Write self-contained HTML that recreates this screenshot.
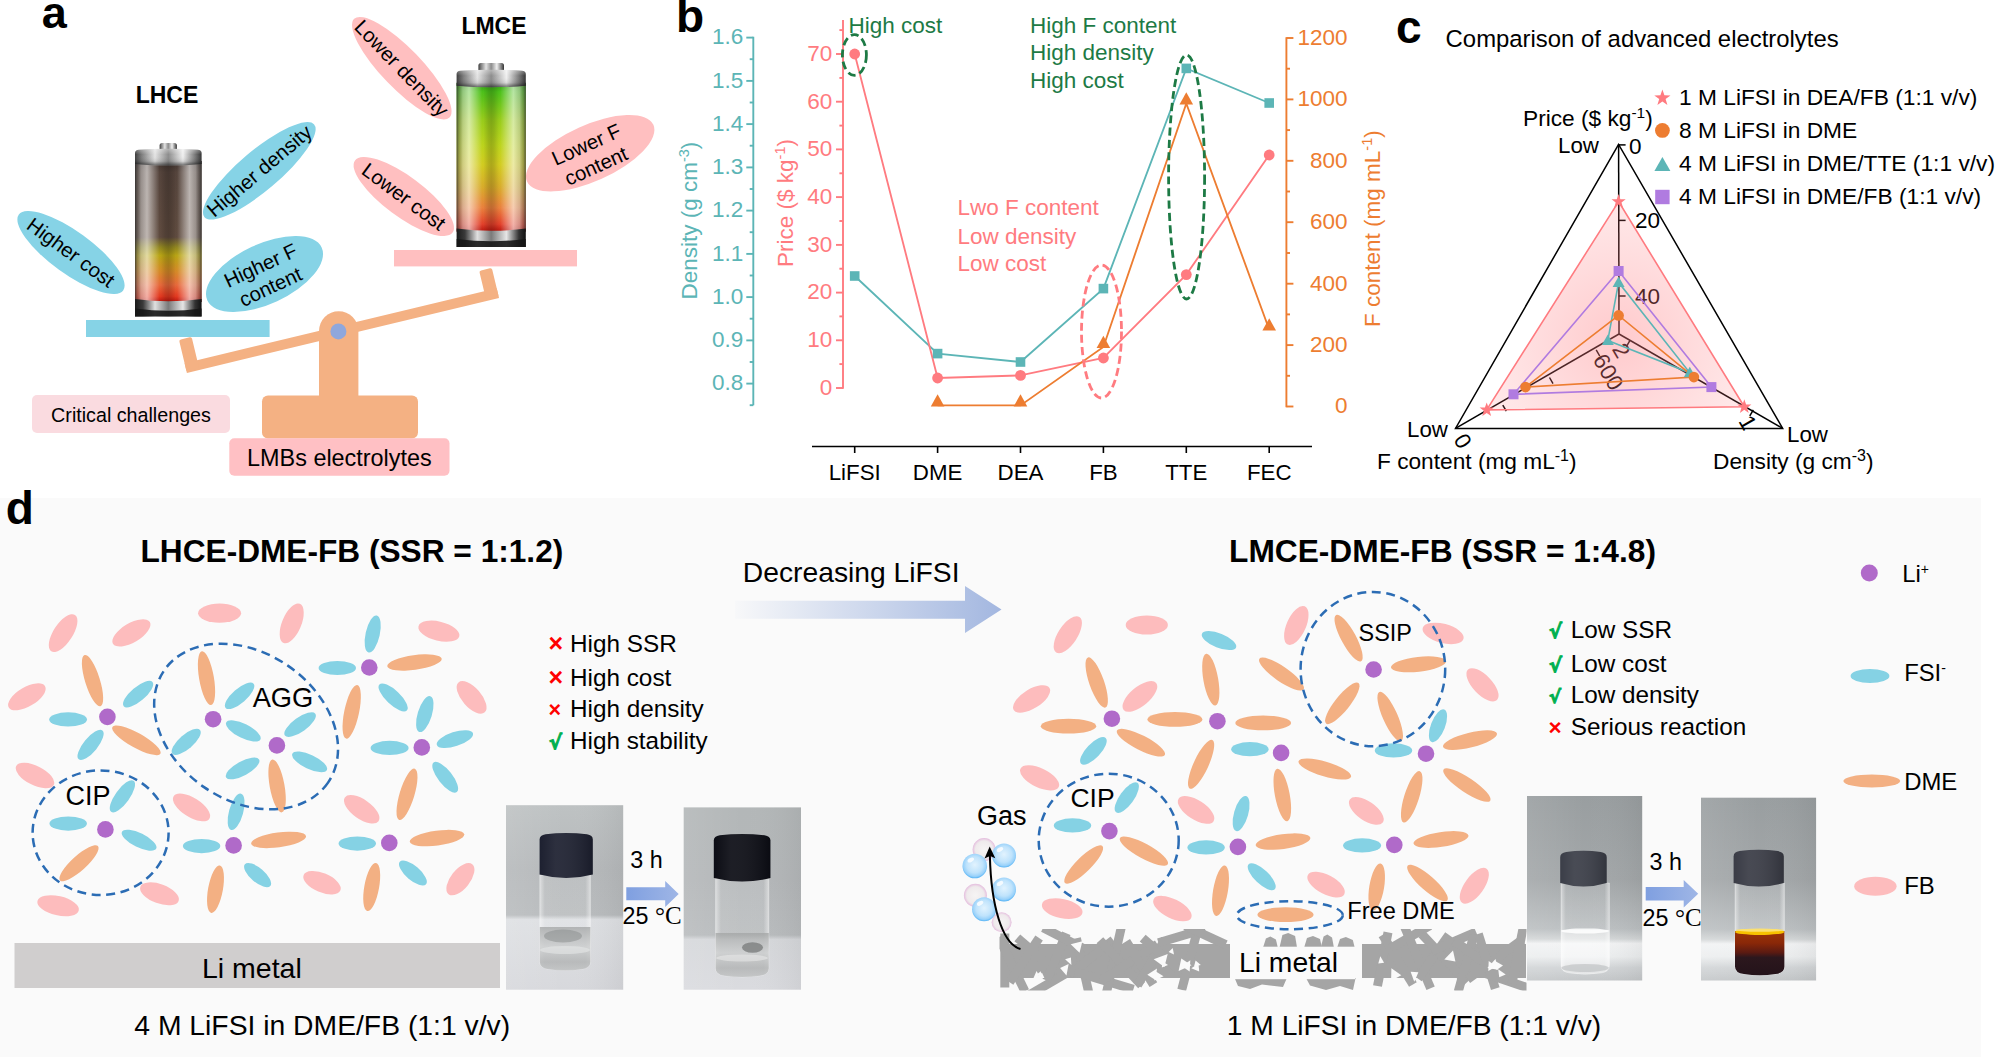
<!DOCTYPE html>
<html><head><meta charset="utf-8"><title>Figure</title>
<style>html,body{margin:0;padding:0;background:#fff}svg{display:block}text{font-family:"Liberation Sans",sans-serif}.dj{font-family:"DejaVu Sans","Liberation Sans",sans-serif}.sf{font-family:"Liberation Serif",serif}</style>
</head><body>
<svg width="2001" height="1057" viewBox="0 0 2001 1057" font-family="Liberation Sans, sans-serif">
<defs>
<linearGradient id="metalH" x1="0" x2="1" y1="0" y2="0">
 <stop offset="0" stop-color="#3c3c3c"/><stop offset="0.1" stop-color="#7d7d7d"/><stop offset="0.3" stop-color="#e4e4e4"/>
 <stop offset="0.5" stop-color="#8c8c8c"/><stop offset="0.72" stop-color="#f0f0f0"/><stop offset="0.9" stop-color="#7a7a7a"/><stop offset="1" stop-color="#333"/>
</linearGradient>
<linearGradient id="capV" x1="0" x2="0" y1="0" y2="1">
 <stop offset="0" stop-color="#fff" stop-opacity="0.35"/><stop offset="0.35" stop-color="#fff" stop-opacity="0"/><stop offset="0.75" stop-color="#000" stop-opacity="0.1"/><stop offset="1" stop-color="#000" stop-opacity="0.55"/>
</linearGradient>
<linearGradient id="baseH" x1="0" x2="1" y1="0" y2="0">
 <stop offset="0" stop-color="#1a1a1a"/><stop offset="0.12" stop-color="#3a3a3a"/><stop offset="0.3" stop-color="#e0e0e0"/>
 <stop offset="0.5" stop-color="#7a7a7a"/><stop offset="0.72" stop-color="#e6e6e6"/><stop offset="0.9" stop-color="#333"/><stop offset="1" stop-color="#111"/>
</linearGradient>
<linearGradient id="glassH" x1="0" x2="1" y1="0" y2="0">
 <stop offset="0" stop-color="#2a2a2a" stop-opacity="0.8"/><stop offset="0.035" stop-color="#666" stop-opacity="0.5"/>
 <stop offset="0.09" stop-color="#ccc" stop-opacity="0.55"/><stop offset="0.18" stop-color="#fff" stop-opacity="0.6"/><stop offset="0.27" stop-color="#fff" stop-opacity="0.32"/><stop offset="0.37" stop-color="#fff" stop-opacity="0"/>
 <stop offset="0.40" stop-color="#000" stop-opacity="0.03"/><stop offset="0.46" stop-color="#000" stop-opacity="0.14"/><stop offset="0.5" stop-color="#000" stop-opacity="0.18"/><stop offset="0.54" stop-color="#000" stop-opacity="0.14"/><stop offset="0.60" stop-color="#000" stop-opacity="0.03"/>
 <stop offset="0.63" stop-color="#fff" stop-opacity="0"/><stop offset="0.73" stop-color="#fff" stop-opacity="0.32"/><stop offset="0.82" stop-color="#fff" stop-opacity="0.6"/><stop offset="0.91" stop-color="#ccc" stop-opacity="0.55"/>
 <stop offset="0.965" stop-color="#666" stop-opacity="0.5"/><stop offset="1" stop-color="#2a2a2a" stop-opacity="0.8"/>
</linearGradient>
<linearGradient id="bat1V" x1="0" x2="0" y1="0" y2="1">
 <stop offset="0" stop-color="#3e322e"/><stop offset="0.08" stop-color="#54433b"/><stop offset="0.54" stop-color="#5e4a3e"/><stop offset="0.61" stop-color="#8f8420"/><stop offset="0.67" stop-color="#b8a414"/>
 <stop offset="0.78" stop-color="#d48a26"/><stop offset="0.88" stop-color="#e6683a"/><stop offset="0.96" stop-color="#e2381f"/><stop offset="1" stop-color="#b8160e"/>
</linearGradient>
<linearGradient id="bat2V" x1="0" x2="0" y1="0" y2="1">
 <stop offset="0" stop-color="#2f9a12"/><stop offset="0.06" stop-color="#4cc01a"/><stop offset="0.25" stop-color="#98cc1a"/><stop offset="0.42" stop-color="#bcd41c"/><stop offset="0.55" stop-color="#d2cc20"/>
 <stop offset="0.7" stop-color="#d8ac2a"/><stop offset="0.84" stop-color="#ea803c"/><stop offset="0.95" stop-color="#e2402a"/><stop offset="1" stop-color="#b8160e"/>
</linearGradient>
<radialGradient id="pinkR" cx="1619" cy="340" r="150" gradientUnits="userSpaceOnUse">
<stop offset="0" stop-color="#ff7b80" stop-opacity="0.40"/><stop offset="0.5" stop-color="#ff7b80" stop-opacity="0.27"/><stop offset="1" stop-color="#ff7b80" stop-opacity="0.15"/></radialGradient><linearGradient id="arrG" x1="0" x2="1"><stop offset="0" stop-color="#a3b7e0" stop-opacity="0.03"/><stop offset="1" stop-color="#a3b7e0"/></linearGradient>
<linearGradient id="arrS" x1="0" x2="1"><stop offset="0" stop-color="#7f9fe0"/><stop offset="1" stop-color="#9fb6e6"/></linearGradient><clipPath id="liclip"><rect x="999.5" y="929" width="527" height="61.5"/></clipPath><radialGradient id="bubB" cx="0.5" cy="0.45" r="0.55"><stop offset="0" stop-color="#e2f3fe"/><stop offset="0.6" stop-color="#bfe3fc"/><stop offset="0.86" stop-color="#98d1fa"/><stop offset="1" stop-color="#52b2f5"/></radialGradient>
<radialGradient id="bubP" cx="0.5" cy="0.5" r="0.5"><stop offset="0" stop-color="#f4f1f1" stop-opacity="0.7"/><stop offset="0.75" stop-color="#ece6e8" stop-opacity="0.8"/><stop offset="1" stop-color="#e3b9dc" stop-opacity="0.95"/></radialGradient>
<linearGradient id="ph1" x1="0" x2="0" y1="0" y2="1"><stop offset="0" stop-color="#bec2c3"/><stop offset="0.35" stop-color="#b6b9bb"/><stop offset="0.595" stop-color="#b9bcbe"/><stop offset="0.62" stop-color="#dee0e3"/><stop offset="1" stop-color="#d7d8dc"/></linearGradient>
<linearGradient id="ph2" x1="0" x2="0" y1="0" y2="1"><stop offset="0" stop-color="#b3b7b8"/><stop offset="0.4" stop-color="#b4b7b9"/><stop offset="0.7" stop-color="#b9bcbe"/><stop offset="0.725" stop-color="#d6d8db"/><stop offset="1" stop-color="#dadbdf"/></linearGradient>
<linearGradient id="ph3" x1="0" x2="0" y1="0" y2="1"><stop offset="0" stop-color="#999ea0"/><stop offset="0.45" stop-color="#a3a7a9"/><stop offset="0.72" stop-color="#bcc0c2"/><stop offset="0.775" stop-color="#d4d7d8"/><stop offset="0.8" stop-color="#f2f3f4"/><stop offset="0.87" stop-color="#eceeef"/><stop offset="0.93" stop-color="#d2d5d7"/><stop offset="1" stop-color="#c4c7c9"/></linearGradient>
<linearGradient id="phside" x1="0" x2="1"><stop offset="0" stop-color="#fff" stop-opacity="0.1"/><stop offset="0.5" stop-color="#fff" stop-opacity="0"/><stop offset="1" stop-color="#000" stop-opacity="0.05"/></linearGradient>
<linearGradient id="glassV" x1="0" x2="1"><stop offset="0" stop-color="#fff" stop-opacity="0.5"/><stop offset="0.1" stop-color="#fff" stop-opacity="0.1"/><stop offset="0.9" stop-color="#fff" stop-opacity="0.1"/><stop offset="1" stop-color="#fff" stop-opacity="0.5"/></linearGradient>
<linearGradient id="liq4" x1="0" x2="0" y1="0" y2="1"><stop offset="0" stop-color="#9a3408"/><stop offset="0.25" stop-color="#8a2808"/><stop offset="0.45" stop-color="#5a1a12"/><stop offset="0.55" stop-color="#2c171d"/><stop offset="1" stop-color="#221219"/></linearGradient>
<linearGradient id="liqg" x1="0" x2="0" y1="0" y2="1"><stop offset="0" stop-color="#a2a4a4" stop-opacity="0.75"/><stop offset="0.4" stop-color="#c8caca" stop-opacity="0.7"/><stop offset="0.7" stop-color="#a9abab" stop-opacity="0.7"/><stop offset="1" stop-color="#c4c6c6" stop-opacity="0.7"/></linearGradient>
<linearGradient id="capH" x1="0" x2="1"><stop offset="0" stop-color="#fff" stop-opacity="0.0"/><stop offset="0.3" stop-color="#fff" stop-opacity="0.07"/><stop offset="1" stop-color="#000" stop-opacity="0.15"/></linearGradient>
<clipPath id="vc1"><path d="M539.8,875.0 V961.7 Q539.8,968.2 548.8,969.2 Q565.1,971.7 581.4,969.2 Q590.4,968.2 590.4,961.7 V875.0 Z"/></clipPath><clipPath id="vc2"><path d="M715.6,878.0 V968.2 Q715.6,974.7 724.6,975.7 Q742.2,978.2 759.8,975.7 Q768.8,974.7 768.8,968.2 V878.0 Z"/></clipPath><clipPath id="vc3"><path d="M1561.0,883.0 V965.5 Q1561.0,972.0 1570.0,973.0 Q1585.2,975.5 1600.4,973.0 Q1609.4,972.0 1609.4,965.5 V883.0 Z"/></clipPath><clipPath id="vc4"><path d="M1735.0,883.0 V966.5 Q1735.0,973.0 1744.0,974.0 Q1759.7,976.5 1775.4,974.0 Q1784.4,973.0 1784.4,966.5 V883.0 Z"/></clipPath></defs>
<rect x="0" y="498" width="1981" height="559" fill="#fafafa"/>
<text x="41.8" y="28.4" font-size="45" text-anchor="start" font-weight="bold" fill="#000" >a</text>
<text x="167.0" y="102.8" font-size="23" text-anchor="middle" font-weight="bold" fill="#000" >LHCE</text>
<text x="494.0" y="34.0" font-size="23" text-anchor="middle" font-weight="bold" fill="#000" >LMCE</text>
<ellipse cx="71.0" cy="252.5" rx="64.5" ry="21.0" transform="rotate(36.0 71.0 252.5)" fill="#86d3e6" />
<g transform="rotate(36.0 71.0 252.5)">
<text x="71.0" y="259.6" font-size="20.3" text-anchor="middle" fill="#000" >Higher cost</text>
</g>
<ellipse cx="259.3" cy="170.8" rx="71.8" ry="20.0" transform="rotate(-40.2 259.3 170.8)" fill="#86d3e6" />
<g transform="rotate(-40.2 259.3 170.8)">
<text x="259.3" y="177.9" font-size="20.3" text-anchor="middle" fill="#000" >Higher density</text>
</g>
<ellipse cx="264.5" cy="274.0" rx="63.0" ry="30.0" transform="rotate(-24.9 264.5 274.0)" fill="#86d3e6" />
<g transform="rotate(-24.9 264.5 274.0)">
<text x="264.5" y="271.6" font-size="20.3" text-anchor="middle" fill="#000" >Higher F</text>
<text x="264.5" y="295.1" font-size="20.3" text-anchor="middle" fill="#000" >content</text>
</g>
<ellipse cx="401.8" cy="68.2" rx="68.6" ry="20.0" transform="rotate(46.0 401.8 68.2)" fill="#ffbfc0" />
<g transform="rotate(46.0 401.8 68.2)">
<text x="401.8" y="75.3" font-size="20.3" text-anchor="middle" fill="#000" >Lower density</text>
</g>
<ellipse cx="403.8" cy="196.5" rx="60.7" ry="20.0" transform="rotate(36.5 403.8 196.5)" fill="#ffbfc0" />
<g transform="rotate(36.5 403.8 196.5)">
<text x="403.8" y="203.6" font-size="20.3" text-anchor="middle" fill="#000" >Lower cost</text>
</g>
<ellipse cx="590.2" cy="153.2" rx="69.3" ry="28.0" transform="rotate(-24.2 590.2 153.2)" fill="#ffbfc0" />
<g transform="rotate(-24.2 590.2 153.2)">
<text x="590.2" y="150.8" font-size="20.3" text-anchor="middle" fill="#000" >Lower F</text>
<text x="590.2" y="174.3" font-size="20.3" text-anchor="middle" fill="#000" >content</text>
</g>
<rect x="159.6" y="143.0" width="17.3" height="9.0" rx="2.5" fill="url(#metalH)"/>
<rect x="135.0" y="161.0" width="66.6" height="141.0" fill="url(#bat1V)"/>
<rect x="135.0" y="161.0" width="66.6" height="141.0" fill="url(#glassH)"/>
<path d="M135.0,164.0 V153.0 Q135.0,150.0 139.0,149.8 Q168.3,147.5 197.6,149.8 Q201.6,150.0 201.6,153.0 V164.0 Q168.3,167.0 135.0,164.0 Z" fill="url(#metalH)"/>
<path d="M135.0,164.0 V153.0 Q135.0,150.0 139.0,149.8 Q168.3,147.5 197.6,149.8 Q201.6,150.0 201.6,153.0 V164.0 Q168.3,167.0 135.0,164.0 Z" fill="url(#capV)"/>
<path d="M135.0,299.0 Q168.3,303.5 201.6,299.0 V316.6 H135.0 Z" fill="url(#baseH)"/>
<path d="M135.0,308.6 Q168.3,313.1 201.6,308.6 V316.6 H135.0 Z" fill="#161616" opacity="0.9"/>
<rect x="478.4" y="63.0" width="25.6" height="10.0" rx="2.5" fill="url(#metalH)"/>
<rect x="456.6" y="82.8" width="69.2" height="148.8" fill="url(#bat2V)"/>
<rect x="456.6" y="82.8" width="69.2" height="148.8" fill="url(#glassH)"/>
<path d="M456.6,85.8 V74.0 Q456.6,71.0 460.6,70.8 Q491.2,68.5 521.8,70.8 Q525.8,71.0 525.8,74.0 V85.8 Q491.2,88.8 456.6,85.8 Z" fill="url(#metalH)"/>
<path d="M456.6,85.8 V74.0 Q456.6,71.0 460.6,70.8 Q491.2,68.5 521.8,70.8 Q525.8,71.0 525.8,74.0 V85.8 Q491.2,88.8 456.6,85.8 Z" fill="url(#capV)"/>
<path d="M456.6,228.6 Q491.2,233.1 525.8,228.6 V247.0 H456.6 Z" fill="url(#baseH)"/>
<path d="M456.6,239.0 Q491.2,243.5 525.8,239.0 V247.0 H456.6 Z" fill="#161616" opacity="0.9"/>
<rect x="86" y="320" width="183.6" height="17" fill="#86d3e6"/>
<rect x="394" y="250" width="183" height="16.4" fill="#ffbfc0"/>
<g transform="rotate(-13.5 338.4 331.4)" fill="#f4b183">
<rect x="181.4" y="326.4" width="321.0" height="10" />
<rect x="181.4" y="302.4" width="13" height="33" rx="2"/>
<rect x="489.4" y="305.4" width="13" height="30" rx="2"/>
</g>
<path d="M319,396 V331 a19.7,19.7 0 0 1 39.4,0 V396 Z" fill="#f4b183"/>
<rect x="262" y="395.5" width="156" height="43" rx="6" fill="#f4b183"/>
<circle cx="338.4" cy="331.4" r="8" fill="#8fa7dc"/>
<rect x="32" y="395" width="198" height="38" rx="5" fill="#fadbe0"/>
<text x="131.0" y="422.0" font-size="19.7" text-anchor="middle" fill="#000" >Critical challenges</text>
<rect x="229.3" y="438.3" width="220.2" height="37.5" rx="5" fill="#ffc0c4"/>
<text x="339.4" y="466.3" font-size="23.4" text-anchor="middle" fill="#000" >LMBs electrolytes</text>
<text x="676.0" y="32.0" font-size="46" text-anchor="start" font-weight="bold" fill="#000" >b</text>
<g stroke="#5cb5b6" stroke-width="1.9" fill="none">
<path d="M753.3,36.8 V405.2"/>
<path d="M749.6999999999999,405.2 H753.3"/>
<path d="M746.3,383.6 H753.3"/>
<path d="M749.6999999999999,362.0 H753.3"/>
<path d="M746.3,340.4 H753.3"/>
<path d="M749.6999999999999,318.7 H753.3"/>
<path d="M746.3,297.1 H753.3"/>
<path d="M749.6999999999999,275.5 H753.3"/>
<path d="M746.3,253.9 H753.3"/>
<path d="M749.6999999999999,232.2 H753.3"/>
<path d="M746.3,210.6 H753.3"/>
<path d="M749.6999999999999,189.0 H753.3"/>
<path d="M746.3,167.4 H753.3"/>
<path d="M749.6999999999999,145.7 H753.3"/>
<path d="M746.3,124.1 H753.3"/>
<path d="M749.6999999999999,102.5 H753.3"/>
<path d="M746.3,80.9 H753.3"/>
<path d="M749.6999999999999,59.2 H753.3"/>
<path d="M746.3,37.6 H753.3"/>
</g>
<text x="743.2" y="390.4" font-size="22.5" text-anchor="end" fill="#5cb5b6" >0.8</text>
<text x="743.2" y="347.2" font-size="22.5" text-anchor="end" fill="#5cb5b6" >0.9</text>
<text x="743.2" y="303.9" font-size="22.5" text-anchor="end" fill="#5cb5b6" >1.0</text>
<text x="743.2" y="260.7" font-size="22.5" text-anchor="end" fill="#5cb5b6" >1.1</text>
<text x="743.2" y="217.4" font-size="22.5" text-anchor="end" fill="#5cb5b6" >1.2</text>
<text x="743.2" y="174.2" font-size="22.5" text-anchor="end" fill="#5cb5b6" >1.3</text>
<text x="743.2" y="130.9" font-size="22.5" text-anchor="end" fill="#5cb5b6" >1.4</text>
<text x="743.2" y="87.7" font-size="22.5" text-anchor="end" fill="#5cb5b6" >1.5</text>
<text x="743.2" y="44.4" font-size="22.5" text-anchor="end" fill="#5cb5b6" >1.6</text>
<text x="697" y="220.6" font-size="22.5" text-anchor="middle" fill="#5cb5b6" transform="rotate(-90 697 220.6)">Density (g cm<tspan font-size="14.5" dy="-8">-3</tspan><tspan dy="8">)</tspan></text>
<g stroke="#ff7b80" stroke-width="1.9" fill="none">
<path d="M843,20 V388.8"/>
<path d="M836,388.0 H843"/>
<path d="M839.4,364.1 H843"/>
<path d="M836,340.3 H843"/>
<path d="M839.4,316.4 H843"/>
<path d="M836,292.6 H843"/>
<path d="M839.4,268.7 H843"/>
<path d="M836,244.9 H843"/>
<path d="M839.4,221.0 H843"/>
<path d="M836,197.1 H843"/>
<path d="M839.4,173.3 H843"/>
<path d="M836,149.4 H843"/>
<path d="M839.4,125.6 H843"/>
<path d="M836,101.7 H843"/>
<path d="M839.4,77.9 H843"/>
<path d="M836,54.0 H843"/>
<path d="M839.4,30.1 H843"/>
</g>
<text x="832.2" y="394.8" font-size="22.5" text-anchor="end" fill="#ff7b80" >0</text>
<text x="832.2" y="347.1" font-size="22.5" text-anchor="end" fill="#ff7b80" >10</text>
<text x="832.2" y="299.4" font-size="22.5" text-anchor="end" fill="#ff7b80" >20</text>
<text x="832.2" y="251.7" font-size="22.5" text-anchor="end" fill="#ff7b80" >30</text>
<text x="832.2" y="203.9" font-size="22.5" text-anchor="end" fill="#ff7b80" >40</text>
<text x="832.2" y="156.2" font-size="22.5" text-anchor="end" fill="#ff7b80" >50</text>
<text x="832.2" y="108.5" font-size="22.5" text-anchor="end" fill="#ff7b80" >60</text>
<text x="832.2" y="60.8" font-size="22.5" text-anchor="end" fill="#ff7b80" >70</text>
<text x="792.5" y="203" font-size="22.5" text-anchor="middle" fill="#ff7b80" transform="rotate(-90 792.5 203)">Price ($ kg<tspan font-size="14.5" dy="-8">-1</tspan><tspan dy="8">)</tspan></text>
<g stroke="#ed7d31" stroke-width="1.9" fill="none">
<path d="M1286.4,37.2 V407.3"/>
<path d="M1286.4,406.5 H1293.4"/>
<path d="M1286.4,375.8 H1290.0"/>
<path d="M1286.4,345.1 H1293.4"/>
<path d="M1286.4,314.4 H1290.0"/>
<path d="M1286.4,283.7 H1293.4"/>
<path d="M1286.4,253.0 H1290.0"/>
<path d="M1286.4,222.2 H1293.4"/>
<path d="M1286.4,191.5 H1290.0"/>
<path d="M1286.4,160.8 H1293.4"/>
<path d="M1286.4,130.1 H1290.0"/>
<path d="M1286.4,99.4 H1293.4"/>
<path d="M1286.4,68.7 H1290.0"/>
<path d="M1286.4,38.0 H1293.4"/>
</g>
<text x="1347.5" y="413.3" font-size="22.5" text-anchor="end" fill="#ed7d31" >0</text>
<text x="1347.5" y="351.9" font-size="22.5" text-anchor="end" fill="#ed7d31" >200</text>
<text x="1347.5" y="290.5" font-size="22.5" text-anchor="end" fill="#ed7d31" >400</text>
<text x="1347.5" y="229.1" font-size="22.5" text-anchor="end" fill="#ed7d31" >600</text>
<text x="1347.5" y="167.6" font-size="22.5" text-anchor="end" fill="#ed7d31" >800</text>
<text x="1347.5" y="106.2" font-size="22.5" text-anchor="end" fill="#ed7d31" >1000</text>
<text x="1347.5" y="44.8" font-size="22.5" text-anchor="end" fill="#ed7d31" >1200</text>
<text x="1380" y="228.6" font-size="22.5" text-anchor="middle" fill="#ed7d31" transform="rotate(-90 1380 228.6)">F content (mg mL<tspan font-size="14.5" dy="-8">-1</tspan><tspan dy="8">)</tspan></text>
<g stroke="#000" stroke-width="1.6" fill="none">
<path d="M812,446.5 H1312"/>
<path d="M854.7,446.5 v6.5"/>
<path d="M937.6,446.5 v6.5"/>
<path d="M1020.5,446.5 v6.5"/>
<path d="M1103.4,446.5 v6.5"/>
<path d="M1186.3,446.5 v6.5"/>
<path d="M1269.2,446.5 v6.5"/>
</g>
<text x="854.7" y="479.6" font-size="22.3" text-anchor="middle" fill="#000" >LiFSI</text>
<text x="937.6" y="479.6" font-size="22.3" text-anchor="middle" fill="#000" >DME</text>
<text x="1020.5" y="479.6" font-size="22.3" text-anchor="middle" fill="#000" >DEA</text>
<text x="1103.4" y="479.6" font-size="22.3" text-anchor="middle" fill="#000" >FB</text>
<text x="1186.3" y="479.6" font-size="22.3" text-anchor="middle" fill="#000" >TTE</text>
<text x="1269.2" y="479.6" font-size="22.3" text-anchor="middle" fill="#000" >FEC</text>
<polyline points="854.7,276.0 937.6,353.6 1020.5,362.0 1103.4,288.6 1186.3,68.4 1269.2,103.0" fill="none" stroke="#5cb5b6" stroke-width="1.85"/>
<polyline points="854.7,54.0 937.6,378.0 1020.5,375.4 1103.4,358.0 1186.3,274.6 1269.2,155.0" fill="none" stroke="#ff7b80" stroke-width="1.85"/>
<polyline points="937.6,405.4 1020.5,405.4 1103.4,347.0 1186.3,103.5 1269.2,329.5" fill="none" stroke="#ed7d31" stroke-width="1.85"/>
<rect x="849.9" y="271.2" width="9.6" height="9.6" fill="#5cb5b6"/>
<rect x="932.8" y="348.8" width="9.6" height="9.6" fill="#5cb5b6"/>
<rect x="1015.7" y="357.2" width="9.6" height="9.6" fill="#5cb5b6"/>
<rect x="1098.6" y="283.8" width="9.6" height="9.6" fill="#5cb5b6"/>
<rect x="1181.5" y="63.6" width="9.6" height="9.6" fill="#5cb5b6"/>
<rect x="1264.4" y="98.2" width="9.6" height="9.6" fill="#5cb5b6"/>
<circle cx="854.7" cy="54.0" r="5.4" fill="#ff7b80"/>
<circle cx="937.6" cy="378.0" r="5.4" fill="#ff7b80"/>
<circle cx="1020.5" cy="375.4" r="5.4" fill="#ff7b80"/>
<circle cx="1103.4" cy="358.0" r="5.4" fill="#ff7b80"/>
<circle cx="1186.3" cy="274.6" r="5.4" fill="#ff7b80"/>
<circle cx="1269.2" cy="155.0" r="5.4" fill="#ff7b80"/>
<path d="M930.8,406.4 L944.4,406.4 L937.6,394.2 Z" fill="#ed7d31"/>
<path d="M1013.7,406.4 L1027.3,406.4 L1020.5,394.2 Z" fill="#ed7d31"/>
<path d="M1096.6,348.0 L1110.2,348.0 L1103.4,335.8 Z" fill="#ed7d31"/>
<path d="M1179.5,104.5 L1193.1,104.5 L1186.3,92.3 Z" fill="#ed7d31"/>
<path d="M1262.4,330.5 L1276.0,330.5 L1269.2,318.3 Z" fill="#ed7d31"/>
<ellipse cx="854.4" cy="55" rx="12" ry="20.3" fill="none" stroke="#1d7a45" stroke-width="2.8" stroke-dasharray="8 4.2"/>
<ellipse cx="1186.6" cy="177" rx="18" ry="122" fill="none" stroke="#1d7a45" stroke-width="2.8" stroke-dasharray="8 4.2"/>
<ellipse cx="1101.5" cy="331.5" rx="20" ry="66.5" fill="none" stroke="#ff7b80" stroke-width="2.8" stroke-dasharray="8 4.2"/>
<text x="848.4" y="33.0" font-size="22.5" text-anchor="start" fill="#1d7a45" >High cost</text>
<text x="1030.0" y="33.0" font-size="22.5" text-anchor="start" fill="#1d7a45" >High F content</text>
<text x="1030.0" y="60.4" font-size="22.5" text-anchor="start" fill="#1d7a45" >High density</text>
<text x="1030.0" y="88.0" font-size="22.5" text-anchor="start" fill="#1d7a45" >High cost</text>
<text x="957.4" y="215.0" font-size="22.5" text-anchor="start" fill="#ff7b80" >Lwo F content</text>
<text x="957.4" y="243.6" font-size="22.5" text-anchor="start" fill="#ff7b80" >Low density</text>
<text x="957.4" y="271.0" font-size="22.5" text-anchor="start" fill="#ff7b80" >Low cost</text>
<text x="1396.0" y="42.6" font-size="46" text-anchor="start" font-weight="bold" fill="#000" >c</text>
<text x="1445.6" y="47.0" font-size="23.9" text-anchor="start" fill="#000" >Comparison of advanced electrolytes</text>
<g stroke="#000" stroke-width="1.5" fill="none">
<path d="M1618.6,144.4 L1455.5,428.4 L1782.7,428.4 Z"/>
<path d="M1619,334 L1618.6,144.4"/>
<path d="M1619,334 L1455.5,428.4"/>
<path d="M1619,334 L1782.7,428.4"/>
<path d="M1618.6,144.9 h7"/>
<path d="M1618.6,220.4 h7"/>
<path d="M1618.6,296 h7"/>
<path d="M1502.8,405.1 l3.5,6.1"/>
<path d="M1549.5,377.5 l3.5,6.1"/>
<path d="M1596.2,349.9 l3.5,6.1"/>
<path d="M1749.8,415.9 l3.5,-6.1"/>
<path d="M1630,340.3 l-3.5,6.1"/>
</g>
<text x="1635.0" y="227.6" font-size="22.5" text-anchor="start" fill="#000" >20</text>
<text x="1635.0" y="303.6" font-size="22.5" text-anchor="start" fill="#000" >40</text>
<text x="1592.2" y="359.6" font-size="22.5" text-anchor="start" fill="#000" transform="rotate(60 1592.2 359.6)" >600</text>
<text x="1611.5" y="349.0" font-size="22.5" text-anchor="start" fill="#000" transform="rotate(60 1611.5 349.0)" >2</text>
<polygon points="1618.6,201.6 1486.7,409.9 1744.3,406.8" fill="url(#pinkR)" stroke="#ff7b80" stroke-width="1.6"/>
<polygon points="1618.6,271.0 1513.5,394.3 1711.4,387.1" fill="none" stroke="#b07be0" stroke-width="1.6"/>
<polygon points="1618.6,282.4 1607.8,340.4 1689.8,372.8" fill="none" stroke="#5cb5b6" stroke-width="1.6"/>
<polygon points="1618.6,315.4 1525.5,387.1 1693.9,377.1" fill="none" stroke="#ed7d31" stroke-width="1.6"/>
<path d="M1612.6,286.9 h12 l-6,-10.5 Z" fill="#5cb5b6"/>
<path d="M1601.8,344.9 h12 l-6,-10.5 Z" fill="#5cb5b6"/>
<path d="M1683.8,377.3 h12 l-6,-10.5 Z" fill="#5cb5b6"/>
<rect x="1613.6" y="266.0" width="10" height="10" fill="#b07be0"/>
<rect x="1508.5" y="389.3" width="10" height="10" fill="#b07be0"/>
<rect x="1706.4" y="382.1" width="10" height="10" fill="#b07be0"/>
<circle cx="1618.6" cy="315.4" r="5.3" fill="#ed7d31"/>
<circle cx="1525.5" cy="387.1" r="5.3" fill="#ed7d31"/>
<circle cx="1693.9" cy="377.1" r="5.3" fill="#ed7d31"/>
<polygon points="1618.6,194.1 1620.4,199.2 1625.7,199.3 1621.5,202.5 1623.0,207.7 1618.6,204.6 1614.2,207.7 1615.7,202.5 1611.5,199.3 1616.8,199.2" fill="#ff7b80"/>
<polygon points="1486.7,402.4 1488.5,407.5 1493.8,407.6 1489.6,410.8 1491.1,416.0 1486.7,412.9 1482.3,416.0 1483.8,410.8 1479.6,407.6 1484.9,407.5" fill="#ff7b80"/>
<polygon points="1744.3,399.3 1746.1,404.4 1751.4,404.5 1747.2,407.7 1748.7,412.9 1744.3,409.8 1739.9,412.9 1741.4,407.7 1737.2,404.5 1742.5,404.4" fill="#ff7b80"/>
<text x="1523" y="125.6" font-size="22.7">Price ($ kg<tspan font-size="15.5" dy="-8">-1</tspan><tspan dy="8">)</tspan></text>
<text x="1558.0" y="153.0" font-size="22.3" text-anchor="start" fill="#000" >Low</text>
<text x="1629.0" y="154.4" font-size="22.5" text-anchor="start" fill="#000" >0</text>
<text x="1407.0" y="437.0" font-size="22.3" text-anchor="start" fill="#000" >Low</text>
<text x="1787.0" y="442.3" font-size="22.3" text-anchor="start" fill="#000" >Low</text>
<text x="1377" y="468.7" font-size="22.7">F content (mg mL<tspan font-size="16" dy="-8">-1</tspan><tspan dy="8">)</tspan></text>
<text x="1713" y="468.7" font-size="22.7">Density (g cm<tspan font-size="16" dy="-8">-3</tspan><tspan dy="8">)</tspan></text>
<text x="1453.0" y="439.6" font-size="22.5" text-anchor="start" fill="#000" transform="rotate(60 1453.0 439.6)" >0</text>
<text x="1738.0" y="421.0" font-size="22.5" text-anchor="start" fill="#000" transform="rotate(60 1738.0 421.0)" >1</text>
<polygon points="1662.4,89.5 1664.4,95.2 1670.5,95.4 1665.6,99.1 1667.4,104.9 1662.4,101.4 1657.4,104.9 1659.2,99.1 1654.3,95.4 1660.4,95.2" fill="#ff7b80"/>
<circle cx="1662.4" cy="130.4" r="7.4" fill="#ed7d31"/>
<path d="M1654.4,171 h16 l-8,-14 Z" fill="#5cb5b6"/>
<rect x="1655.2" y="189.8" width="14.4" height="14.4" fill="#b07be0"/>
<text x="1679.0" y="104.6" font-size="22.75" text-anchor="start" fill="#000" >1 M LiFSI in DEA/FB (1:1 v/v)</text>
<text x="1679.0" y="137.6" font-size="22.75" text-anchor="start" fill="#000" >8 M LiFSI in DME</text>
<text x="1679.0" y="171.0" font-size="22.75" text-anchor="start" fill="#000" >4 M LiFSI in DME/TTE (1:1 v/v)</text>
<text x="1679.0" y="204.0" font-size="22.75" text-anchor="start" fill="#000" >4 M LiFSI in DME/FB (1:1 v/v)</text>
<text x="5.8" y="523.8" font-size="46" text-anchor="start" font-weight="bold" fill="#000" >d</text>
<text x="351.9" y="562.2" font-size="31.65" text-anchor="middle" font-weight="bold" fill="#000" >LHCE-DME-FB (SSR = 1:1.2)</text>
<text x="1442.5" y="562.2" font-size="31.7" text-anchor="middle" font-weight="bold" fill="#000" >LMCE-DME-FB (SSR = 1:4.8)</text>
<text x="851.2" y="581.7" font-size="28.25" text-anchor="middle" fill="#000" >Decreasing LiFSI</text>
<path d="M735,600.7 H965 V586 L1001.5,609.6 L965,633 V618.7 H735 Z" fill="url(#arrG)"/>
<ellipse cx="63.1" cy="633.1" rx="21.7" ry="9.6" transform="rotate(-56.8 63.1 633.1)" fill="#fdbcbd" />
<ellipse cx="131.4" cy="632.9" rx="21.4" ry="9.6" transform="rotate(-30.4 131.4 632.9)" fill="#fdbcbd" />
<ellipse cx="219.6" cy="613.2" rx="21.5" ry="9.6" transform="rotate(0.0 219.6 613.2)" fill="#fdbcbd" />
<ellipse cx="291.7" cy="623.4" rx="21.2" ry="9.6" transform="rotate(-67.5 291.7 623.4)" fill="#fdbcbd" />
<ellipse cx="438.9" cy="631.2" rx="21.0" ry="9.6" transform="rotate(13.8 438.9 631.2)" fill="#fdbcbd" />
<ellipse cx="26.9" cy="696.8" rx="21.0" ry="9.6" transform="rotate(-30.4 26.9 696.8)" fill="#fdbcbd" />
<ellipse cx="471.6" cy="697.4" rx="19.9" ry="9.6" transform="rotate(48.8 471.6 697.4)" fill="#fdbcbd" />
<ellipse cx="35.0" cy="775.5" rx="21.0" ry="9.6" transform="rotate(26.6 35.0 775.5)" fill="#fdbcbd" />
<ellipse cx="191.5" cy="807.4" rx="21.1" ry="9.6" transform="rotate(32.2 191.5 807.4)" fill="#fdbcbd" />
<ellipse cx="361.7" cy="809.3" rx="20.6" ry="9.6" transform="rotate(35.1 361.7 809.3)" fill="#fdbcbd" />
<ellipse cx="58.1" cy="905.7" rx="21.2" ry="9.6" transform="rotate(13.0 58.1 905.7)" fill="#fdbcbd" />
<ellipse cx="159.5" cy="893.8" rx="20.4" ry="9.6" transform="rotate(20.4 159.5 893.8)" fill="#fdbcbd" />
<ellipse cx="322.0" cy="882.7" rx="19.9" ry="9.6" transform="rotate(22.9 322.0 882.7)" fill="#fdbcbd" />
<ellipse cx="460.4" cy="879.2" rx="19.1" ry="9.6" transform="rotate(-51.6 460.4 879.2)" fill="#fdbcbd" />
<ellipse cx="1067.8" cy="634.7" rx="21.2" ry="9.6" transform="rotate(-56.8 1067.8 634.7)" fill="#fdbcbd" />
<ellipse cx="1146.8" cy="625.0" rx="21.1" ry="9.6" transform="rotate(0.0 1146.8 625.0)" fill="#fdbcbd" />
<ellipse cx="1296.3" cy="625.4" rx="20.9" ry="9.6" transform="rotate(-66.0 1296.3 625.4)" fill="#fdbcbd" />
<ellipse cx="1443.1" cy="633.4" rx="21.1" ry="9.6" transform="rotate(14.8 1443.1 633.4)" fill="#fdbcbd" />
<ellipse cx="1031.6" cy="698.9" rx="21.0" ry="9.6" transform="rotate(-31.6 1031.6 698.9)" fill="#fdbcbd" />
<ellipse cx="1139.9" cy="696.4" rx="21.1" ry="9.6" transform="rotate(-39.7 1139.9 696.4)" fill="#fdbcbd" />
<ellipse cx="1039.6" cy="777.8" rx="21.2" ry="9.6" transform="rotate(25.5 1039.6 777.8)" fill="#fdbcbd" />
<ellipse cx="1196.1" cy="809.9" rx="20.8" ry="9.6" transform="rotate(32.7 1196.1 809.9)" fill="#fdbcbd" />
<ellipse cx="1366.3" cy="810.9" rx="20.1" ry="9.6" transform="rotate(34.9 1366.3 810.9)" fill="#fdbcbd" />
<ellipse cx="1062.2" cy="908.6" rx="20.7" ry="9.6" transform="rotate(12.2 1062.2 908.6)" fill="#fdbcbd" />
<ellipse cx="1172.4" cy="908.6" rx="21.0" ry="9.6" transform="rotate(26.6 1172.4 908.6)" fill="#fdbcbd" />
<ellipse cx="1326.1" cy="884.6" rx="20.6" ry="9.6" transform="rotate(27.8 1326.1 884.6)" fill="#fdbcbd" />
<ellipse cx="1482.5" cy="684.8" rx="21.0" ry="9.6" transform="rotate(46.4 1482.5 684.8)" fill="#fdbcbd" />
<ellipse cx="1474.3" cy="885.8" rx="21.0" ry="9.6" transform="rotate(-54.2 1474.3 885.8)" fill="#fdbcbd" />
<ellipse cx="92.5" cy="680.6" rx="26.8" ry="7.4" transform="rotate(72.7 92.5 680.6)" fill="#f3b083" />
<ellipse cx="136.4" cy="740.3" rx="27.5" ry="7.4" transform="rotate(29.1 136.4 740.3)" fill="#f3b083" />
<ellipse cx="206.5" cy="678.1" rx="27.3" ry="7.4" transform="rotate(80.2 206.5 678.1)" fill="#f3b083" />
<ellipse cx="414.5" cy="662.5" rx="27.5" ry="7.4" transform="rotate(-7.8 414.5 662.5)" fill="#f3b083" />
<ellipse cx="351.7" cy="711.8" rx="27.4" ry="7.4" transform="rotate(101.8 351.7 711.8)" fill="#f3b083" />
<ellipse cx="277.1" cy="785.9" rx="26.9" ry="7.4" transform="rotate(79.8 277.1 785.9)" fill="#f3b083" />
<ellipse cx="407.0" cy="794.3" rx="26.8" ry="7.4" transform="rotate(106.8 407.0 794.3)" fill="#f3b083" />
<ellipse cx="278.6" cy="839.9" rx="27.7" ry="7.4" transform="rotate(-7.8 278.6 839.9)" fill="#f3b083" />
<ellipse cx="437.0" cy="838.1" rx="27.5" ry="7.4" transform="rotate(-7.8 437.0 838.1)" fill="#f3b083" />
<ellipse cx="79.0" cy="863.2" rx="25.6" ry="7.4" transform="rotate(-42.2 79.0 863.2)" fill="#f3b083" />
<ellipse cx="215.5" cy="889.2" rx="24.1" ry="7.4" transform="rotate(100.4 215.5 889.2)" fill="#f3b083" />
<ellipse cx="371.7" cy="887.0" rx="24.4" ry="7.4" transform="rotate(100.3 371.7 887.0)" fill="#f3b083" />
<ellipse cx="1096.7" cy="682.5" rx="26.5" ry="7.4" transform="rotate(70.7 1096.7 682.5)" fill="#f3b083" />
<ellipse cx="1068.5" cy="726.2" rx="27.7" ry="7.4" transform="rotate(0.0 1068.5 726.2)" fill="#f3b083" />
<ellipse cx="1140.9" cy="742.7" rx="26.9" ry="7.4" transform="rotate(27.0 1140.9 742.7)" fill="#f3b083" />
<ellipse cx="1210.8" cy="679.6" rx="26.3" ry="7.4" transform="rotate(79.9 1210.8 679.6)" fill="#f3b083" />
<ellipse cx="1174.9" cy="719.4" rx="27.5" ry="7.4" transform="rotate(0.0 1174.9 719.4)" fill="#f3b083" />
<ellipse cx="1263.2" cy="722.9" rx="27.9" ry="7.4" transform="rotate(0.0 1263.2 722.9)" fill="#f3b083" />
<ellipse cx="1201.1" cy="764.3" rx="26.8" ry="7.4" transform="rotate(114.8 1201.1 764.3)" fill="#f3b083" />
<ellipse cx="1281.5" cy="674.1" rx="26.9" ry="7.4" transform="rotate(34.8 1281.5 674.1)" fill="#f3b083" />
<ellipse cx="1348.6" cy="638.1" rx="26.3" ry="7.4" transform="rotate(61.6 1348.6 638.1)" fill="#f3b083" />
<ellipse cx="1418.5" cy="664.3" rx="27.7" ry="7.4" transform="rotate(-6.5 1418.5 664.3)" fill="#f3b083" />
<ellipse cx="1342.3" cy="703.3" rx="26.0" ry="7.4" transform="rotate(128.6 1342.3 703.3)" fill="#f3b083" />
<ellipse cx="1390.2" cy="716.6" rx="26.9" ry="7.4" transform="rotate(66.2 1390.2 716.6)" fill="#f3b083" />
<ellipse cx="1324.8" cy="769.0" rx="27.4" ry="7.4" transform="rotate(16.7 1324.8 769.0)" fill="#f3b083" />
<ellipse cx="1282.3" cy="794.9" rx="26.7" ry="7.4" transform="rotate(79.2 1282.3 794.9)" fill="#f3b083" />
<ellipse cx="1411.7" cy="796.8" rx="26.9" ry="7.4" transform="rotate(107.6 1411.7 796.8)" fill="#f3b083" />
<ellipse cx="1283.0" cy="841.6" rx="27.6" ry="7.4" transform="rotate(-7.8 1283.0 841.6)" fill="#f3b083" />
<ellipse cx="1441.0" cy="839.5" rx="27.8" ry="7.4" transform="rotate(-8.5 1441.0 839.5)" fill="#f3b083" />
<ellipse cx="1083.7" cy="864.5" rx="26.3" ry="7.4" transform="rotate(-44.6 1083.7 864.5)" fill="#f3b083" />
<ellipse cx="1143.9" cy="851.1" rx="27.3" ry="7.4" transform="rotate(28.7 1143.9 851.1)" fill="#f3b083" />
<ellipse cx="1220.5" cy="890.7" rx="25.6" ry="7.4" transform="rotate(99.8 1220.5 890.7)" fill="#f3b083" />
<ellipse cx="1376.7" cy="887.0" rx="23.8" ry="7.4" transform="rotate(99.4 1376.7 887.0)" fill="#f3b083" />
<ellipse cx="1427.5" cy="883.0" rx="26.4" ry="7.4" transform="rotate(41.5 1427.5 883.0)" fill="#f3b083" />
<ellipse cx="1285.5" cy="914.7" rx="28.1" ry="7.4" transform="rotate(0.0 1285.5 914.7)" fill="#f3b083" />
<ellipse cx="1470.0" cy="740.1" rx="27.8" ry="7.4" transform="rotate(-13.9 1470.0 740.1)" fill="#f3b083" />
<ellipse cx="1466.9" cy="785.1" rx="28.1" ry="7.4" transform="rotate(33.7 1466.9 785.1)" fill="#f3b083" />
<ellipse cx="68.1" cy="719.4" rx="18.9" ry="7.1" transform="rotate(0.0 68.1 719.4)" fill="#85d2e4" />
<ellipse cx="138.1" cy="694.1" rx="18.8" ry="7.1" transform="rotate(-40.1 138.1 694.1)" fill="#85d2e4" />
<ellipse cx="90.6" cy="744.9" rx="18.7" ry="7.1" transform="rotate(-50.7 90.6 744.9)" fill="#85d2e4" />
<ellipse cx="239.6" cy="695.8" rx="18.5" ry="7.1" transform="rotate(-40.9 239.6 695.8)" fill="#85d2e4" />
<ellipse cx="243.3" cy="730.9" rx="19.1" ry="7.1" transform="rotate(26.4 243.3 730.9)" fill="#85d2e4" />
<ellipse cx="186.2" cy="741.8" rx="18.2" ry="7.1" transform="rotate(-40.8 186.2 741.8)" fill="#85d2e4" />
<ellipse cx="300.1" cy="724.6" rx="18.7" ry="7.1" transform="rotate(-35.5 300.1 724.6)" fill="#85d2e4" />
<ellipse cx="309.6" cy="761.8" rx="19.1" ry="7.1" transform="rotate(25.2 309.6 761.8)" fill="#85d2e4" />
<ellipse cx="242.6" cy="768.4" rx="18.8" ry="7.1" transform="rotate(-28.6 242.6 768.4)" fill="#85d2e4" />
<ellipse cx="337.3" cy="668.0" rx="18.7" ry="7.1" transform="rotate(0.0 337.3 668.0)" fill="#85d2e4" />
<ellipse cx="372.7" cy="634.0" rx="18.9" ry="7.1" transform="rotate(-77.4 372.7 634.0)" fill="#85d2e4" />
<ellipse cx="393.1" cy="697.4" rx="18.9" ry="7.1" transform="rotate(43.4 393.1 697.4)" fill="#85d2e4" />
<ellipse cx="424.8" cy="714.1" rx="18.7" ry="7.1" transform="rotate(-72.9 424.8 714.1)" fill="#85d2e4" />
<ellipse cx="454.9" cy="739.1" rx="19.0" ry="7.1" transform="rotate(-18.0 454.9 739.1)" fill="#85d2e4" />
<ellipse cx="389.6" cy="747.9" rx="19.0" ry="7.1" transform="rotate(0.0 389.6 747.9)" fill="#85d2e4" />
<ellipse cx="445.2" cy="777.2" rx="18.8" ry="7.1" transform="rotate(51.8 445.2 777.2)" fill="#85d2e4" />
<ellipse cx="122.4" cy="796.3" rx="19.2" ry="7.1" transform="rotate(-54.2 122.4 796.3)" fill="#85d2e4" />
<ellipse cx="68.2" cy="823.6" rx="18.7" ry="7.1" transform="rotate(0.0 68.2 823.6)" fill="#85d2e4" />
<ellipse cx="139.1" cy="840.2" rx="19.1" ry="7.1" transform="rotate(26.1 139.1 840.2)" fill="#85d2e4" />
<ellipse cx="236.1" cy="811.8" rx="18.8" ry="7.1" transform="rotate(-74.6 236.1 811.8)" fill="#85d2e4" />
<ellipse cx="201.6" cy="846.1" rx="18.7" ry="7.1" transform="rotate(0.0 201.6 846.1)" fill="#85d2e4" />
<ellipse cx="357.3" cy="843.6" rx="18.7" ry="7.1" transform="rotate(0.0 357.3 843.6)" fill="#85d2e4" />
<ellipse cx="257.6" cy="875.1" rx="16.7" ry="7.1" transform="rotate(40.5 257.6 875.1)" fill="#85d2e4" />
<ellipse cx="412.9" cy="873.0" rx="17.3" ry="7.1" transform="rotate(40.6 412.9 873.0)" fill="#85d2e4" />
<ellipse cx="1219.0" cy="640.6" rx="18.4" ry="7.1" transform="rotate(21.9 1219.0 640.6)" fill="#85d2e4" />
<ellipse cx="1093.4" cy="750.8" rx="17.8" ry="7.1" transform="rotate(-46.4 1093.4 750.8)" fill="#85d2e4" />
<ellipse cx="1249.9" cy="749.2" rx="18.7" ry="7.1" transform="rotate(0.0 1249.9 749.2)" fill="#85d2e4" />
<ellipse cx="1393.5" cy="750.4" rx="18.7" ry="7.1" transform="rotate(0.0 1393.5 750.4)" fill="#85d2e4" />
<ellipse cx="1438.0" cy="725.7" rx="17.4" ry="7.1" transform="rotate(-69.0 1438.0 725.7)" fill="#85d2e4" />
<ellipse cx="1126.8" cy="797.6" rx="18.2" ry="7.1" transform="rotate(-54.2 1126.8 797.6)" fill="#85d2e4" />
<ellipse cx="1072.5" cy="825.4" rx="18.7" ry="7.1" transform="rotate(0.0 1072.5 825.4)" fill="#85d2e4" />
<ellipse cx="1241.1" cy="813.6" rx="18.2" ry="7.1" transform="rotate(-74.1 1241.1 813.6)" fill="#85d2e4" />
<ellipse cx="1206.1" cy="847.4" rx="18.7" ry="7.1" transform="rotate(0.0 1206.1 847.4)" fill="#85d2e4" />
<ellipse cx="1362.1" cy="845.4" rx="19.0" ry="7.1" transform="rotate(0.0 1362.1 845.4)" fill="#85d2e4" />
<ellipse cx="1261.7" cy="876.7" rx="18.1" ry="7.1" transform="rotate(43.6 1261.7 876.7)" fill="#85d2e4" />
<circle cx="107.4" cy="716.9" r="8.3" fill="#b06ac9"/>
<circle cx="213.1" cy="719.2" r="8.3" fill="#b06ac9"/>
<circle cx="276.9" cy="745.4" r="8.3" fill="#b06ac9"/>
<circle cx="369.3" cy="667.5" r="8.3" fill="#b06ac9"/>
<circle cx="421.8" cy="747.4" r="8.3" fill="#b06ac9"/>
<circle cx="105.4" cy="829.4" r="8.3" fill="#b06ac9"/>
<circle cx="233.6" cy="845.4" r="8.3" fill="#b06ac9"/>
<circle cx="389.3" cy="842.9" r="8.3" fill="#b06ac9"/>
<circle cx="1111.9" cy="718.7" r="8.3" fill="#b06ac9"/>
<circle cx="1217.4" cy="721.2" r="8.3" fill="#b06ac9"/>
<circle cx="1373.6" cy="669.5" r="8.3" fill="#b06ac9"/>
<circle cx="1281.1" cy="752.9" r="8.3" fill="#b06ac9"/>
<circle cx="1426.0" cy="753.7" r="8.3" fill="#b06ac9"/>
<circle cx="1109.4" cy="831.1" r="8.3" fill="#b06ac9"/>
<circle cx="1237.9" cy="846.9" r="8.3" fill="#b06ac9"/>
<circle cx="1394.3" cy="844.9" r="8.3" fill="#b06ac9"/>
<ellipse cx="246.1" cy="726.5" rx="99.3" ry="73.8" transform="rotate(34.4 246.1 726.5)" fill="none" stroke="#2b6cb4" stroke-width="2.5" stroke-dasharray="9 5.6"/>
<ellipse cx="100.6" cy="832.7" rx="68" ry="62.3" fill="none" stroke="#2b6cb4" stroke-width="2.5" stroke-dasharray="9 5.6"/>
<ellipse cx="1372.9" cy="669.1" rx="72.3" ry="77.1" fill="none" stroke="#2b6cb4" stroke-width="2.5" stroke-dasharray="9 5.6"/>
<ellipse cx="1108.7" cy="840.2" rx="70" ry="66.5" fill="none" stroke="#2b6cb4" stroke-width="2.5" stroke-dasharray="9 5.6"/>
<ellipse cx="1289.8" cy="915.2" rx="53" ry="14" fill="none" stroke="#2b6cb4" stroke-width="2.5" stroke-dasharray="9 5.6"/>
<text x="283.0" y="707.4" font-size="27.3" text-anchor="middle" fill="#000" >AGG</text>
<text x="88.0" y="805.4" font-size="27" text-anchor="middle" fill="#000" >CIP</text>
<text x="1385.2" y="640.7" font-size="23.4" text-anchor="middle" fill="#000" >SSIP</text>
<text x="1092.5" y="807.4" font-size="26.5" text-anchor="middle" fill="#000" >CIP</text>
<text x="1347.3" y="919.2" font-size="23.6" text-anchor="start" fill="#000" >Free DME</text>
<text x="977.0" y="825.4" font-size="27" text-anchor="start" fill="#000" >Gas</text>
<text x="548.5" y="651.7" font-size="25" font-weight="bold" fill="#ff0000">×</text>
<text x="570.0" y="651.7" font-size="24.3" text-anchor="start" fill="#000" >High SSR</text>
<text x="548.5" y="685.5" font-size="25" font-weight="bold" fill="#ff0000">×</text>
<text x="570.0" y="685.5" font-size="24.3" text-anchor="start" fill="#000" >High cost</text>
<text x="548.5" y="717.0" font-size="21.5" font-weight="bold" fill="#ff0000">×</text>
<text x="570.0" y="717.0" font-size="24.3" text-anchor="start" fill="#000" >High density</text>
<text x="549.0" y="748.7" font-size="19.5" font-weight="bold" fill="#00b050" stroke="#00b050" stroke-width="1" class="dj">√</text>
<text x="570.0" y="748.7" font-size="24.3" text-anchor="start" fill="#000" >High stability</text>
<text x="1549.0" y="638.2" font-size="19.5" font-weight="bold" fill="#00b050" stroke="#00b050" stroke-width="1" class="dj">√</text>
<text x="1570.7" y="638.2" font-size="24.3" text-anchor="start" fill="#000" >Low SSR</text>
<text x="1549.0" y="672.0" font-size="19.5" font-weight="bold" fill="#00b050" stroke="#00b050" stroke-width="1" class="dj">√</text>
<text x="1570.7" y="672.0" font-size="24.3" text-anchor="start" fill="#000" >Low cost</text>
<text x="1549.0" y="702.5" font-size="18" font-weight="bold" fill="#00b050" stroke="#00b050" stroke-width="1" class="dj">√</text>
<text x="1570.7" y="702.5" font-size="24.3" text-anchor="start" fill="#000" >Low density</text>
<text x="1548.5" y="735.0" font-size="22.5" font-weight="bold" fill="#ff0000">×</text>
<text x="1570.7" y="735.0" font-size="24.3" text-anchor="start" fill="#000" >Serious reaction</text>
<rect x="14.5" y="943" width="485.5" height="45" fill="#d0cece"/>
<text x="251.9" y="978.0" font-size="28.5" text-anchor="middle" fill="#000" >Li metal</text>
<text x="322.2" y="1035.0" font-size="28.3" text-anchor="middle" fill="#000" >4 M LiFSI in DME/FB (1:1 v/v)</text>
<text x="1414.0" y="1035.0" font-size="28.2" text-anchor="middle" fill="#000" >1 M LiFSI in DME/FB (1:1 v/v)</text>
<g clip-path="url(#liclip)"><g stroke="#a5a5a5" stroke-width="9" stroke-linecap="butt">
<rect x="1004" y="944" width="226" height="34" fill="#a5a5a5" stroke="none"/>
<rect x="1362" y="944" width="164" height="34" fill="#a5a5a5" stroke="none"/>
<polygon points="1262.9,948 1265.9,938.5 1270.4,936.5 1275.9,939.5 1277.9,948" fill="#a5a5a5" stroke="none"/>
<polygon points="1279.4,948 1282.4,935.0 1288.2,933.0 1295.1,936.0 1297.1,948" fill="#a5a5a5" stroke="none"/>
<polygon points="1304.0,948 1307.0,938.0 1313.0,936.0 1320.0,939.0 1322.0,948" fill="#a5a5a5" stroke="none"/>
<polygon points="1320.6,948 1323.6,936.5 1327.3,934.5 1332.0,937.5 1334.0,948" fill="#a5a5a5" stroke="none"/>
<polygon points="1337.0,948 1340.0,939.0 1345.9,937.0 1352.8,940.0 1354.8,948" fill="#a5a5a5" stroke="none"/>
<polygon points="1234.6,978 1286.9,978 1283,987 1262,984.5 1250,989 1238,986" fill="#a5a5a5" stroke="none"/>
<polygon points="1306,978 1355.6,978 1353,990 1340,986 1326,990 1310,985.5" fill="#a5a5a5" stroke="none"/>
<line x1="1004.8" y1="933.5" x2="1004.8" y2="987.5"/>
<line x1="998.7" y1="937.2" x2="1024.9" y2="991.3"/>
<line x1="1009.6" y1="982.3" x2="1039.1" y2="937.9"/>
<line x1="1017.3" y1="937.8" x2="1059.4" y2="974.0"/>
<line x1="1023.8" y1="998.1" x2="1070.0" y2="971.1"/>
<line x1="1046.7" y1="980.5" x2="1066.3" y2="933.3"/>
<line x1="1043.2" y1="927.7" x2="1091.2" y2="952.5"/>
<line x1="1076.4" y1="938.2" x2="1088.6" y2="991.8"/>
<line x1="1069.6" y1="974.5" x2="1113.3" y2="940.1"/>
<line x1="1074.9" y1="971.7" x2="1133.4" y2="989.4"/>
<line x1="1106.6" y1="992.1" x2="1121.3" y2="927.3"/>
<line x1="1099.9" y1="940.2" x2="1141.5" y2="985.3"/>
<line x1="1101.0" y1="980.9" x2="1157.4" y2="944.2"/>
<line x1="1126.2" y1="941.4" x2="1153.4" y2="984.6"/>
<line x1="1137.5" y1="985.2" x2="1165.1" y2="939.4"/>
<line x1="1142.7" y1="938.2" x2="1186.0" y2="976.1"/>
<line x1="1158.4" y1="942.8" x2="1205.0" y2="928.9"/>
<line x1="1181.7" y1="989.9" x2="1199.0" y2="924.4"/>
<line x1="1185.3" y1="925.9" x2="1225.7" y2="944.7"/>
<line x1="1377.5" y1="986.0" x2="1388.0" y2="932.4"/>
<line x1="1382.5" y1="934.8" x2="1412.9" y2="984.5"/>
<line x1="1390.7" y1="948.1" x2="1429.8" y2="925.7"/>
<line x1="1404.6" y1="926.9" x2="1430.6" y2="988.2"/>
<line x1="1418.0" y1="978.6" x2="1448.9" y2="934.8"/>
<line x1="1421.8" y1="934.1" x2="1466.9" y2="982.4"/>
<line x1="1431.6" y1="951.1" x2="1476.1" y2="932.0"/>
<line x1="1458.2" y1="991.8" x2="1473.9" y2="935.0"/>
<line x1="1454.0" y1="940.5" x2="1498.4" y2="972.9"/>
<line x1="1478.3" y1="933.8" x2="1495.3" y2="988.7"/>
<line x1="1467.5" y1="979.4" x2="1522.3" y2="939.7"/>
<line x1="1486.2" y1="973.8" x2="1530.5" y2="988.8"/>
<line x1="1511.9" y1="983.8" x2="1523.4" y2="926.7"/>
</g>
<polygon points="1418.4,972.2 1414.3,981.7 1410.6,971.8" fill="#fafafa"/>
<polygon points="1065.1,959.3 1070.9,957.4 1071.4,964.9" fill="#fafafa"/>
<polygon points="1155.4,979.9 1147.3,974.7 1157.0,968.6" fill="#fafafa"/>
<polygon points="1079.5,952.8 1070.7,944.2 1082.4,941.2" fill="#fafafa"/>
<polygon points="1154.7,970.7 1163.5,976.2 1154.5,980.5" fill="#fafafa"/>
<polygon points="1499.2,977.3 1498.2,969.3 1505.7,974.5" fill="#fafafa"/>
<polygon points="1162.5,961.5 1168.0,964.9 1161.8,967.6" fill="#fafafa"/>
<polygon points="1041.9,972.6 1044.4,978.0 1037.4,978.0" fill="#fafafa"/>
<polygon points="1200.8,965.0 1194.0,966.4 1195.6,960.5" fill="#fafafa"/>
<polygon points="1391.1,980.8 1391.4,968.3 1401.3,975.3" fill="#fafafa"/>
<polygon points="1068.6,964.0 1066.5,975.5 1060.1,968.1" fill="#fafafa"/>
<polygon points="1178.6,971.0 1181.3,958.6 1191.5,965.2" fill="#fafafa"/>
<polygon points="1174.0,954.6 1168.7,951.9 1172.7,948.0" fill="#fafafa"/>
<polygon points="1032.7,979.7 1036.6,971.0 1040.7,979.1" fill="#fafafa"/>
<polygon points="1036.7,974.5 1040.8,971.2 1041.5,977.5" fill="#fafafa"/>
<polygon points="1498.0,969.7 1487.4,968.0 1495.5,959.0" fill="#fafafa"/>
<polygon points="1167.7,954.0 1164.4,966.9 1153.7,959.2" fill="#fafafa"/>
<polygon points="1378.3,963.5 1380.3,956.2 1384.1,962.8" fill="#fafafa"/>
<polygon points="1496.6,970.1 1494.2,960.6 1503.0,965.6" fill="#fafafa"/>
<polygon points="1453.0,950.6 1455.4,961.4 1444.3,959.6" fill="#fafafa"/>
<polygon points="1191.3,968.3 1198.5,963.6 1199.2,971.6" fill="#fafafa"/>
<polygon points="1496.2,966.6 1488.3,971.0 1488.7,960.9" fill="#fafafa"/>
<polygon points="1190.3,960.3 1189.7,971.4 1181.8,966.2" fill="#fafafa"/>
</g>
<rect x="1230" y="946.7" width="125" height="32.5" fill="#fafafa"/>
<text x="1288.5" y="971.7" font-size="28.3" text-anchor="middle" fill="#000" >Li metal</text>
<circle cx="984.1" cy="849.6" r="11.5" fill="url(#bubP)"/>
<circle cx="975.4" cy="895.3" r="11.5" fill="url(#bubP)"/>
<circle cx="1001.6" cy="922.2" r="10" fill="url(#bubP)"/>
<circle cx="1004" cy="855.6" r="12" fill="url(#bubB)"/>
<ellipse cx="1000" cy="849.6" rx="3.5" ry="2" fill="#fff" opacity="0.8" transform="rotate(-30 1000 849.6)"/>
<circle cx="974.8" cy="866" r="12.3" fill="url(#bubB)"/>
<ellipse cx="970.8" cy="860" rx="3.5" ry="2" fill="#fff" opacity="0.8" transform="rotate(-30 970.8 860)"/>
<circle cx="1004" cy="889.4" r="12" fill="url(#bubB)"/>
<ellipse cx="1000" cy="883.4" rx="3.5" ry="2" fill="#fff" opacity="0.8" transform="rotate(-30 1000 883.4)"/>
<circle cx="984.1" cy="909.3" r="12" fill="url(#bubB)"/>
<ellipse cx="980.1" cy="903.3" rx="3.5" ry="2" fill="#fff" opacity="0.8" transform="rotate(-30 980.1 903.3)"/>
<path d="M1020.5,949 C1002,944 991,905 989.9,856" fill="none" stroke="#000" stroke-width="2"/>
<path d="M989.7,846.5 L984.5,858.5 L990,856 L995.3,858.2 Z" fill="#000"/>
<rect x="506" y="805.2" width="117.2" height="184.5" fill="url(#ph1)"/>
<rect x="506" y="805.2" width="117.2" height="184.5" fill="url(#phside)"/>
<path d="M539.8,875.0 V961.7 Q539.8,968.2 548.8,969.2 Q565.1,971.7 581.4,969.2 Q590.4,968.2 590.4,961.7 V875.0 Z" fill="url(#glassV)" stroke="#fff" stroke-opacity="0.4" stroke-width="0.8"/>
<g clip-path="url(#vc1)">
<rect x="535" y="927" width="60" height="50" fill="url(#liqg)"/>
<ellipse cx="563" cy="936" rx="19" ry="6.5" fill="#8d8f8f" opacity="0.55"/>
<ellipse cx="565" cy="950" rx="25" ry="4" fill="#e8e9e9" opacity="0.55"/>
</g>
<path d="M539.6,839.5 Q539.6,835.0 545.6,834.2 Q566.2,831.7 586.8,834.2 Q592.8,835.0 592.8,839.5 V874.5 Q566.2,881.5 539.6,874.5 Z" fill="#1d2030"/>
<path d="M539.6,839.5 Q539.6,835.0 545.6,834.2 Q566.2,831.7 586.8,834.2 Q592.8,835.0 592.8,839.5 V874.5 Q566.2,881.5 539.6,874.5 Z" fill="url(#capH)"/>
<rect x="683.7" y="807.4" width="117.3" height="182.3" fill="url(#ph2)"/>
<rect x="683.7" y="807.4" width="117.3" height="182.3" fill="url(#phside)"/>
<path d="M715.6,878.0 V968.2 Q715.6,974.7 724.6,975.7 Q742.2,978.2 759.8,975.7 Q768.8,974.7 768.8,968.2 V878.0 Z" fill="url(#glassV)" stroke="#fff" stroke-opacity="0.4" stroke-width="0.8"/>
<g clip-path="url(#vc2)">
<rect x="710" y="933" width="64" height="50" fill="url(#liqg)"/>
<ellipse cx="752.5" cy="947.5" rx="10.5" ry="5.2" fill="#808282" opacity="0.85"/>
<ellipse cx="742" cy="958" rx="26" ry="3.5" fill="#ededed" opacity="0.5"/>
</g>
<path d="M713.8,840.5 Q713.8,836.0 719.8,835.2 Q742.1,832.7 764.4,835.2 Q770.4,836.0 770.4,840.5 V878.0 Q742.1,885.0 713.8,878.0 Z" fill="#0c0d15"/>
<path d="M713.8,840.5 Q713.8,836.0 719.8,835.2 Q742.1,832.7 764.4,835.2 Q770.4,836.0 770.4,840.5 V878.0 Q742.1,885.0 713.8,878.0 Z" fill="url(#capH)"/>
<rect x="1527" y="796" width="115.2" height="184.5" fill="url(#ph3)"/>
<rect x="1527" y="796" width="115.2" height="184.5" fill="url(#phside)"/>
<path d="M1561.0,883.0 V965.5 Q1561.0,972.0 1570.0,973.0 Q1585.2,975.5 1600.4,973.0 Q1609.4,972.0 1609.4,965.5 V883.0 Z" fill="url(#glassV)" stroke="#fff" stroke-opacity="0.4" stroke-width="0.8"/>
<g clip-path="url(#vc3)">
<rect x="1556" y="930" width="58" height="48" fill="#fff" opacity="0.42"/>
<ellipse cx="1585" cy="931" rx="24" ry="2.6" fill="#fff" opacity="0.85"/>
<ellipse cx="1585" cy="968" rx="24" ry="4" fill="#b9bcbe" opacity="0.6"/>
</g>
<path d="M1560.2,857.3 Q1560.2,852.8 1566.2,852.0 Q1583.5,849.5 1600.7,852.0 Q1606.7,852.8 1606.7,857.3 V882.9 Q1583.5,889.9 1560.2,882.9 Z" fill="#3b3e48"/>
<path d="M1560.2,857.3 Q1560.2,852.8 1566.2,852.0 Q1583.5,849.5 1600.7,852.0 Q1606.7,852.8 1606.7,857.3 V882.9 Q1583.5,889.9 1560.2,882.9 Z" fill="url(#capH)"/>
<rect x="1701" y="797.7" width="115.1" height="182.8" fill="url(#ph3)"/>
<rect x="1701" y="797.7" width="115.1" height="182.8" fill="url(#phside)"/>
<path d="M1735.0,883.0 V966.5 Q1735.0,973.0 1744.0,974.0 Q1759.7,976.5 1775.4,974.0 Q1784.4,973.0 1784.4,966.5 V883.0 Z" fill="url(#glassV)" stroke="#fff" stroke-opacity="0.4" stroke-width="0.8"/>
<g clip-path="url(#vc4)">
<rect x="1730" y="931" width="60" height="48" fill="url(#liq4)"/>
<ellipse cx="1759.7" cy="932" rx="24.7" ry="3" fill="#f7c200"/>
<ellipse cx="1759.7" cy="930.2" rx="24" ry="1.6" fill="#fbe070"/>
</g>
<path d="M1733.6,856.4 Q1733.6,851.9 1739.6,851.1 Q1758.7,848.6 1777.8,851.1 Q1783.8,851.9 1783.8,856.4 V882.9 Q1758.7,889.9 1733.6,882.9 Z" fill="#3a3c46"/>
<path d="M1733.6,856.4 Q1733.6,851.9 1739.6,851.1 Q1758.7,848.6 1777.8,851.1 Q1783.8,851.9 1783.8,856.4 V882.9 Q1758.7,889.9 1733.6,882.9 Z" fill="url(#capH)"/>
<path d="M626.3,887.2 H665.2 V881 L678.7,894 L665.2,907 V900.3 H626.3 Z" fill="url(#arrS)"/>
<path d="M1645.7,887 H1683.7 V880 L1698.2,893.8 L1683.7,907.5 V900.5 H1645.7 Z" fill="url(#arrS)"/>
<text x="630.3" y="868.4" font-size="23.3" text-anchor="start" fill="#000" >3 h</text>
<text x="1649.5" y="870.0" font-size="23.3" text-anchor="start" fill="#000" >3 h</text>
<text x="622.6" y="924.2" font-size="23.3">25 <tspan class="sf" font-size="25">°C</tspan></text>
<text x="1642.5" y="926.2" font-size="23.3">25 <tspan class="sf" font-size="25">°C</tspan></text>
<circle cx="1869.3" cy="573" r="8.5" fill="#b06ac9"/>
<text x="1902.3" y="582" font-size="23.8">Li<tspan font-size="14" dy="-8">+</tspan></text>
<ellipse cx="1870.0" cy="676.0" rx="19.4" ry="7.0" transform="rotate(0.0 1870.0 676.0)" fill="#85d2e4" />
<text x="1904.2" y="681.2" font-size="23.8">FSI<tspan font-size="14" dy="-8">-</tspan></text>
<ellipse cx="1871.8" cy="781.0" rx="28.4" ry="6.5" transform="rotate(0.0 1871.8 781.0)" fill="#f3b083" />
<text x="1904.2" y="790.0" font-size="23.9" text-anchor="start" fill="#000" >DME</text>
<ellipse cx="1875.4" cy="886.2" rx="21.2" ry="9.5" transform="rotate(0.0 1875.4 886.2)" fill="#fdbcbd" />
<text x="1904.2" y="894.4" font-size="23.9" text-anchor="start" fill="#000" >FB</text>
</svg>
</body></html>
